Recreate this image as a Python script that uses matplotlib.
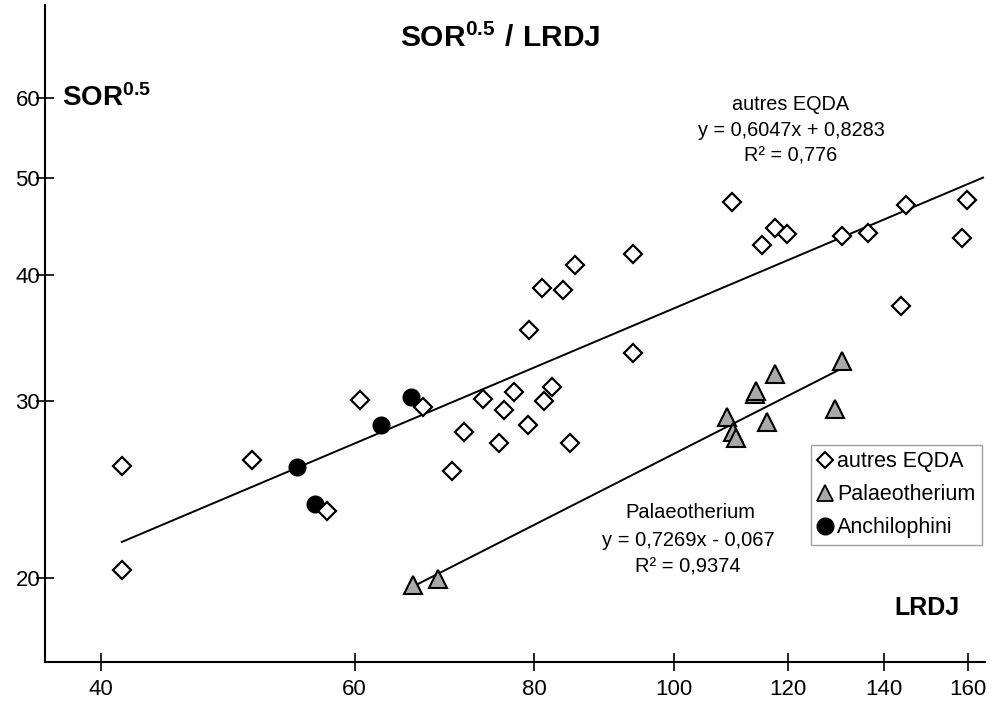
import numpy as np
import matplotlib
matplotlib.use('Agg')
import matplotlib.pyplot as plt
from matplotlib.ticker import FixedLocator, NullLocator, FixedFormatter
from matplotlib.lines import Line2D

plt.rcParams['font.family'] = ['Liberation Sans', 'DejaVu Sans']
plt.rcParams['mathtext.fontset'] = 'custom'
plt.rcParams['mathtext.rm'] = 'Liberation Sans'
plt.rcParams['mathtext.bf'] = 'Liberation Sans:bold'

# ---- data ----
eqda_lrdj = [41.35, 41.35, 50.91, 57.40, 60.54, 66.93, 70.14, 71.54, 73.67, 75.66,
             76.23, 77.46, 79.15, 79.36, 80.99, 81.29, 82.27, 83.71, 84.72, 85.42,
             93.65, 93.65, 109.83, 115.12, 117.60, 119.82, 130.84, 136.40, 143.86,
             144.95, 158.54, 159.82]
eqda_sor = [25.84, 20.37, 26.20, 23.31, 30.10, 29.60, 25.55, 27.95, 30.17, 27.28,
            29.38, 30.61, 28.42, 35.33, 38.81, 29.97, 30.96, 38.63, 27.28, 40.93,
            41.98, 33.49, 47.28, 42.85, 44.52, 43.95, 43.74, 44.08, 37.27,
            46.96, 43.57, 47.50]

palaeo_lrdj = [65.93, 68.62, 108.85, 110.01, 110.48, 113.90, 114.08, 116.05, 117.60, 129.45, 130.84]
palaeo_sor = [19.68, 19.99, 28.93, 27.93, 27.55, 30.52, 30.68, 28.60, 31.95, 29.49, 32.86]

anchi_lrdj = [54.69, 56.33, 62.58, 65.66]
anchi_sor = [25.78, 23.73, 28.38, 30.28]

# trend lines (ln-ln regressions shown on the chart)
eqda_fit = (0.6047, 0.8283)
eqda_fit_range = [41.35, 164.0]
palaeo_fit = (0.7269, -0.067)
palaeo_fit_range = [65.93, 130.84]

x_ticks = [40, 60, 80, 100, 120, 140, 160]
y_ticks = [20, 30, 40, 50, 60]

W, H = 992, 704
fig = plt.figure(figsize=(W / 100, H / 100), dpi=100)
ax = fig.add_axes([45 / W, 42 / H, 940 / W, 657 / H])
ax.set_xscale('log')
ax.set_yscale('log')
ax.set_xlim(36.57, 164.5)
ax.set_ylim(16.52, 74.2)

for s in ['top', 'right']:
    ax.spines[s].set_visible(False)
for s in ['left', 'bottom']:
    ax.spines[s].set_linewidth(1.5)

ax.xaxis.set_major_locator(FixedLocator(x_ticks))
ax.xaxis.set_major_formatter(FixedFormatter([str(v) for v in x_ticks]))
ax.xaxis.set_minor_locator(NullLocator())
ax.yaxis.set_major_locator(FixedLocator(y_ticks))
ax.yaxis.set_major_formatter(FixedFormatter([str(v) for v in y_ticks]))
ax.yaxis.set_minor_locator(NullLocator())
ax.tick_params(axis='x', direction='inout', length=13, width=1.2, pad=6, labelsize=16)
ax.tick_params(axis='y', direction='inout', length=13, width=1.2, pad=-3, labelsize=16)

def fit_line(coef, rng):
    xs = np.array(rng)
    return xs, np.exp(coef[0] * np.log(xs) + coef[1])

xs, ys = fit_line(eqda_fit, eqda_fit_range)
ax.plot(xs, ys, color='black', lw=1.4, zorder=2)
xs, ys = fit_line(palaeo_fit, palaeo_fit_range)
ax.plot(xs, ys, color='black', lw=1.4, zorder=2)

ax.plot(anchi_lrdj, anchi_sor, 'o', ms=12, color='black', zorder=3)
ax.plot(palaeo_lrdj, palaeo_sor, '^', ms=13, mfc='#a9a9a9', mec='black', mew=1.5, zorder=3)
ax.plot(eqda_lrdj, eqda_sor, 'D', ms=9.5, mfc='white', mec='black', mew=1.6, zorder=4)

def ftext(x, y, s, **kw):
    fig.text(x / W, 1 - y / H, s, **kw)

ftext(500, 38, r'$\mathbf{SOR^{0.5}\ /\ LRDJ}$', ha='center', va='center', fontsize=21.5)
ftext(62, 98, r'$\mathbf{SOR^{0.5}}$', ha='left', va='center', fontsize=20)
ftext(927, 608, 'LRDJ', ha='center', va='center', fontsize=18, fontweight='bold')

ftext(791, 105, 'autres EQDA', ha='center', va='center', fontsize=14.3)
ftext(791, 130, 'y = 0,6047x + 0,8283', ha='center', va='center', fontsize=14.3)
ftext(791, 156, 'R² = 0,776', ha='center', va='center', fontsize=14.3)

ftext(690, 513, 'Palaeotherium', ha='center', va='center', fontsize=14.5)
ftext(688, 540, 'y = 0,7269x - 0,067', ha='center', va='center', fontsize=14.5)
ftext(688, 567, 'R² = 0,9374', ha='center', va='center', fontsize=14.5)

handles = [
    Line2D([], [], ls='none', marker='D', ms=8, mfc='white', mec='black', mew=1.5),
    Line2D([], [], ls='none', marker='^', ms=12, mfc='#a9a9a9', mec='black', mew=1.3),
    Line2D([], [], ls='none', marker='o', ms=12, color='black'),
]
leg = ax.legend(handles, ['autres EQDA', 'Palaeotherium', 'Anchilophini'],
                loc='upper left', bbox_to_anchor=(811 / W, 1 - 445 / H),
                bbox_transform=fig.transFigure, fontsize=15.5, frameon=True,
                fancybox=False, edgecolor='#888888', handlelength=0.7,
                handletextpad=0.2, labelspacing=0.55, borderpad=0.3,
                borderaxespad=0)
leg.get_frame().set_linewidth(1.0)

fig.savefig('out.png', dpi=100)
